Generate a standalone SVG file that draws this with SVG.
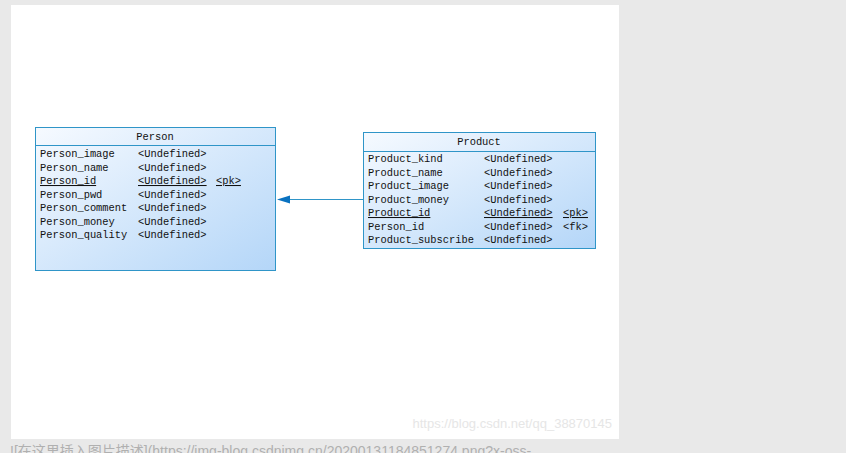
<svg xmlns="http://www.w3.org/2000/svg" width="846" height="453" viewBox="0 0 846 453">
<defs>
<linearGradient id="g" x1="0" y1="0" x2="1" y2="1">
<stop offset="0" stop-color="#f6faff"/>
<stop offset="1" stop-color="#b4d6f8"/>
</linearGradient>
<style>
.box{fill:url(#g);stroke:#2f95c8;stroke-width:1}
.sep{stroke:#2f95c8;stroke-width:1}
.t{font-family:"Liberation Mono",monospace;font-size:10.4px;fill:#111}
.u{text-decoration:underline}
.c{text-anchor:middle}
</style>
</defs>
<rect x="0" y="0" width="846" height="453" fill="#e9e9e9"/>
<rect x="11" y="5" width="608" height="434" fill="#ffffff"/>
<text x="612" y="428" text-anchor="end" font-family="Liberation Sans,sans-serif" font-size="13px" fill="#e6e6e6">https://blog.csdn.net/qq_38870145</text>
<text x="10" y="456" font-family="Liberation Sans,'Noto Sans CJK SC',sans-serif" font-size="14px" fill="#b0b0b0">![在这里插入图片描述](https://img-blog.csdnimg.cn/20200131184851274.png?x-oss-</text>
<g id="connectors">
<line x1="363" y1="199.5" x2="288" y2="199.5" stroke="#2f95c8" stroke-width="1"/>
<polygon points="277,199.5 290,195.5 290,203.5" fill="#0a72c0"/>
</g>
<g id="person">
<rect class="box" x="35.5" y="127.5" width="240" height="143"/>
<line class="sep" x1="35.5" y1="145.5" x2="275.5" y2="145.5"/>
<text class="t c" x="155" y="139.5">Person</text>
<text class="t" x="40" y="157">Person_image</text><text class="t" x="138" y="157">&lt;Undefined&gt;</text>
<text class="t" x="40" y="170.5">Person_name</text><text class="t" x="138" y="170.5">&lt;Undefined&gt;</text>
<text class="t u" x="40" y="184">Person_id</text><text class="t u" x="138" y="184">&lt;Undefined&gt;</text><text class="t u" x="216" y="184">&lt;pk&gt;</text>
<text class="t" x="40" y="197.5">Person_pwd</text><text class="t" x="138" y="197.5">&lt;Undefined&gt;</text>
<text class="t" x="40" y="211">Person_comment</text><text class="t" x="138" y="211">&lt;Undefined&gt;</text>
<text class="t" x="40" y="224.5">Person_money</text><text class="t" x="138" y="224.5">&lt;Undefined&gt;</text>
<text class="t" x="40" y="238">Person_quality</text><text class="t" x="138" y="238">&lt;Undefined&gt;</text>
</g>
<g id="product">
<rect class="box" x="363.5" y="132.5" width="232" height="116"/>
<line class="sep" x1="363.5" y1="151.5" x2="595.5" y2="151.5"/>
<text class="t c" x="479" y="144.5">Product</text>
<text class="t" x="368" y="162">Product_kind</text><text class="t" x="484" y="162">&lt;Undefined&gt;</text>
<text class="t" x="368" y="175.5">Product_name</text><text class="t" x="484" y="175.5">&lt;Undefined&gt;</text>
<text class="t" x="368" y="189">Product_image</text><text class="t" x="484" y="189">&lt;Undefined&gt;</text>
<text class="t" x="368" y="202.5">Product_money</text><text class="t" x="484" y="202.5">&lt;Undefined&gt;</text>
<text class="t u" x="368" y="216">Product_id</text><text class="t u" x="484" y="216">&lt;Undefined&gt;</text><text class="t u" x="563" y="216">&lt;pk&gt;</text>
<text class="t" x="368" y="229.5">Person_id</text><text class="t" x="484" y="229.5">&lt;Undefined&gt;</text><text class="t" x="563" y="229.5">&lt;fk&gt;</text>
<text class="t" x="368" y="243">Product_subscribe</text><text class="t" x="484" y="243">&lt;Undefined&gt;</text>
</g>
</svg>
